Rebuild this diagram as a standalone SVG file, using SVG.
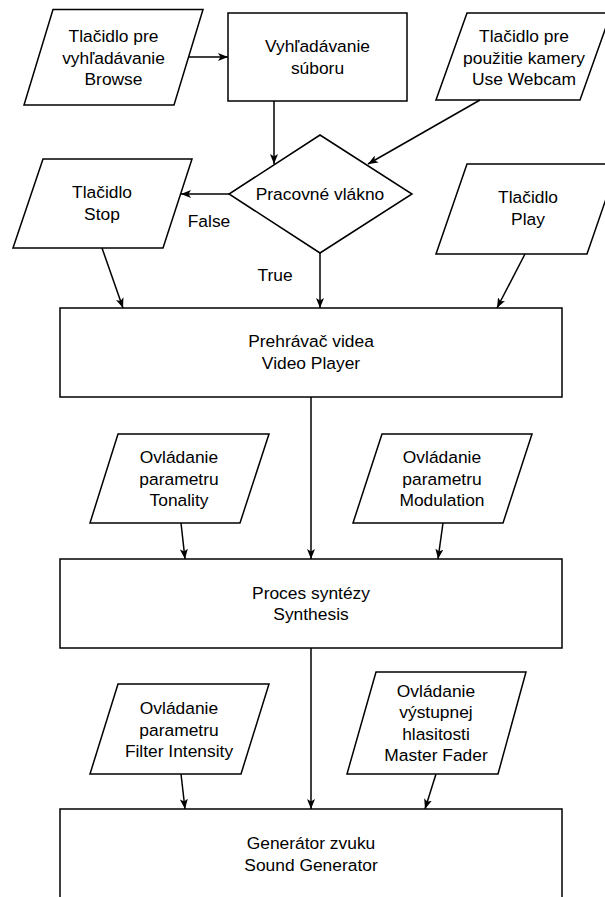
<svg xmlns="http://www.w3.org/2000/svg" width="605" height="897" viewBox="0 0 605 897">
<defs>
<marker id="arr" viewBox="0 0 10 8" refX="10" refY="4" markerWidth="10" markerHeight="8" markerUnits="userSpaceOnUse" orient="auto">
<path d="M0,0 L10,4 L0,8 L2.5,4 Z" fill="#000"/>
</marker>
<style>
.s{fill:#fff;stroke:#000;stroke-width:1.5}
.t{font-family:"Liberation Sans",Arial,sans-serif;font-size:17.4px;fill:#000;text-anchor:middle}
.c line{stroke:#000;stroke-width:1.5;marker-end:url(#arr)}
</style>
</defs>
<rect width="605" height="897" fill="#fff"/>
<g id="browse">
<polygon class="s" points="53,9.5 203,9.5 174,105 24,105"/>
<text class="t" x="113.5" y="42">Tlačidlo pre</text>
<text class="t" x="113.5" y="63.5">vyhľadávanie</text>
<text class="t" x="113.5" y="85">Browse</text>
</g>
<g id="search">
<rect class="s" x="228" y="13" width="179" height="88"/>
<text class="t" x="317.5" y="52">Vyhľadávanie</text>
<text class="t" x="317.5" y="73.5">súboru</text>
</g>
<g id="webcam">
<polygon class="s" points="467,13 611,13 580,100 436,100"/>
<text class="t" x="524" y="42">Tlačidlo pre</text>
<text class="t" x="524" y="63.5">použitie kamery</text>
<text class="t" x="524" y="85">Use Webcam</text>
</g>
<g id="thread">
<polygon class="s" points="320,135 412,194 320,253 229,194"/>
<text class="t" x="320" y="200">Pracovné vlákno</text>
</g>
<g id="stop">
<polygon class="s" points="43,159 192,159 163,248 13,248"/>
<text class="t" x="102" y="198">Tlačidlo</text>
<text class="t" x="102" y="220">Stop</text>
</g>
<g id="play">
<polygon class="s" points="467,164 618,164 587,254 436,254"/>
<text class="t" x="528" y="203">Tlačidlo</text>
<text class="t" x="528" y="225">Play</text>
</g>
<g id="player">
<rect class="s" x="60" y="308" width="502" height="89"/>
<text class="t" x="311" y="347">Prehrávač videa</text>
<text class="t" x="311" y="369">Video Player</text>
</g>
<g id="tonality">
<polygon class="s" points="118,434 269,434 240,523 90,523"/>
<text class="t" x="179" y="463">Ovládanie</text>
<text class="t" x="179" y="484.5">parametru</text>
<text class="t" x="179" y="506">Tonality</text>
</g>
<g id="modulation">
<polygon class="s" points="382,434 532,434 503,523 353,523"/>
<text class="t" x="442" y="463">Ovládanie</text>
<text class="t" x="442" y="484.5">parametru</text>
<text class="t" x="442" y="506">Modulation</text>
</g>
<g id="synthesis">
<rect class="s" x="60" y="559" width="502" height="89"/>
<text class="t" x="311" y="598.5">Proces syntézy</text>
<text class="t" x="311" y="620">Synthesis</text>
</g>
<g id="filter">
<polygon class="s" points="118,684 269,684 241,774 90,774"/>
<text class="t" x="179" y="714">Ovládanie</text>
<text class="t" x="179" y="735.5">parametru</text>
<text class="t" x="179" y="757">Filter Intensity</text>
</g>
<g id="master">
<polygon class="s" points="376,672 526,672 498,774 347,774"/>
<text class="t" x="436" y="696.5">Ovládanie</text>
<text class="t" x="436" y="718">výstupnej</text>
<text class="t" x="436" y="739.5">hlasitosti</text>
<text class="t" x="436" y="761">Master Fader</text>
</g>
<g id="generator">
<rect class="s" x="60" y="809" width="502" height="89"/>
<text class="t" x="311" y="849">Generátor zvuku</text>
<text class="t" x="311" y="870.5">Sound Generator</text>
</g>
<g id="connectors" class="c">
<line x1="189" y1="57" x2="228" y2="57"/>
<line x1="274" y1="101" x2="274" y2="164"/>
<line x1="480" y1="100" x2="368" y2="164"/>
<line x1="229" y1="194" x2="181" y2="194"/>
<line x1="320" y1="253" x2="320" y2="308"/>
<line x1="102" y1="248" x2="123" y2="308"/>
<line x1="525" y1="254" x2="497" y2="308"/>
<line x1="311" y1="397" x2="311" y2="559"/>
<line x1="181" y1="523" x2="185" y2="559"/>
<line x1="443" y1="523" x2="438" y2="559"/>
<line x1="311" y1="648" x2="311" y2="809"/>
<line x1="181" y1="774" x2="185" y2="809"/>
<line x1="436" y1="774" x2="425" y2="809"/>
</g>
<g id="labels">
<text class="t" x="209" y="227">False</text>
<text class="t" x="275" y="281">True</text>
</g>
</svg>
